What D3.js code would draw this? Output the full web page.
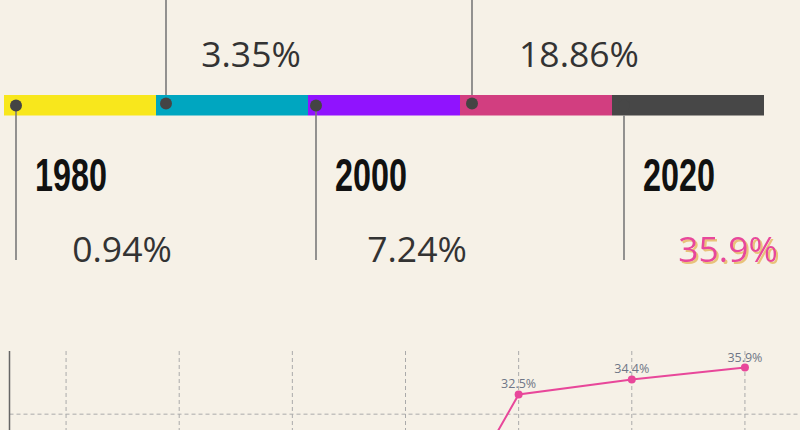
<!DOCTYPE html>
<html>
<head>
<meta charset="utf-8">
<script src="https://cdn.jsdelivr.net/npm/d3@7/dist/d3.min.js"></script>
<style>
  html, body { margin: 0; padding: 0; background: #f6f1e7; overflow: hidden; }
  svg { display: block; }
</style>
</head>
<body>
<svg id="chart" width="800" height="430"></svg>
<script>
// ---- data ----
const segYears = ["1980", "1990", "2000", "2010", "2020"];
const segValues = [0.94, 3.35, 7.24, 18.86, 35.9];
const segColors = ["#f8e71c", "#00a6c0", "#9013fe", "#d23e80", "#474747"];

const lineCategories = ["1980", "1990", "1995", "2000", "2018", "2019", "2020"];
const lineValues = [0.94, 3.35, 5.1, 7.24, 32.5, 34.4, 35.9];
const yTicks = [0, 10, 20, 30];

// ---- drawing ----
const svg = d3.select("#chart");
const W = 800, H = 430;

const defs = svg.append("defs");
const f = defs.append("filter").attr("id", "goldShadow")
  .attr("x", "-10%").attr("y", "-10%").attr("width", "130%").attr("height", "130%");
f.append("feOffset").attr("in", "SourceAlpha").attr("dx", 2).attr("dy", 1.5).attr("result", "off");
f.append("feFlood").attr("flood-color", "#e9c27a").attr("result", "col");
f.append("feComposite").attr("in", "col").attr("in2", "off").attr("operator", "in").attr("result", "shadow");
const fm = f.append("feMerge");
fm.append("feMergeNode").attr("in", "shadow");
fm.append("feMergeNode").attr("in", "SourceGraphic");

svg.append("rect").attr("width", W).attr("height", H).attr("fill", "#f6f1e7");

// timeline bar
const xb = d3.scaleBand().domain(segYears).range([4, 764]).paddingInner(0).paddingOuter(0);
const barTop = 95, barH = 20.5;
const fmt = v => v + "%";

const segs = segYears.map((y, i) => ({ year: y, value: segValues[i], color: segColors[i], i }));
const lineOffset = [12, 10, 8, 12, 12];
const labelShift = [5, -18, -4, 6, 3];
const isDown = d => d.i % 2 === 0;
const lx = d => xb(d.year) + lineOffset[d.i];
const last = segs.length - 1;

const g = svg.append("g");

// connector lines above the bar
g.selectAll("line.conn").data(segs.filter(d => !isDown(d))).join("line")
  .attr("class", "conn")
  .attr("x1", lx).attr("x2", lx)
  .attr("y1", -10).attr("y2", barTop + barH / 2)
  .attr("stroke", "#7a7a7a").attr("stroke-width", 1.6);

g.selectAll("rect.seg").data(segs).join("rect")
  .attr("class", "seg")
  .attr("x", d => xb(d.year)).attr("y", barTop)
  .attr("width", xb.bandwidth()).attr("height", barH)
  .attr("fill", d => d.color);

// connector lines below the bar
g.selectAll("line.conn2").data(segs.filter(isDown)).join("line")
  .attr("class", "conn2")
  .attr("x1", lx).attr("x2", lx)
  .attr("y1", d => d.i === last ? barTop + barH : barTop + barH / 2).attr("y2", 260)
  .attr("stroke", "#7a7a7a").attr("stroke-width", 1.6);

g.selectAll("circle.dot").data(segs).join("circle")
  .attr("class", "dot")
  .attr("cx", lx)
  .attr("cy", d => isDown(d) ? 105.5 : 103.5)
  .attr("r", 6)
  .attr("fill", d => d.i === last ? d.color : "#444");

// year labels (visible ones below the bar)
g.selectAll("text.year").data(segs.filter(isDown)).join("text")
  .attr("class", "year")
  .attr("x", d => lx(d) + 19)
  .attr("y", 191)
  .attr("font-family", "'Liberation Sans Narrow', 'Arial Narrow', sans-serif")
  .attr("font-weight", "bold")
  .attr("font-size", 46)
  .attr("textLength", 72)
  .attr("lengthAdjust", "spacingAndGlyphs")
  .attr("fill", "#111")
  .text(d => d.year);

// percentage labels
const pctX = d => xb(d.year) + 113 + labelShift[d.i];
const pctY = d => isDown(d) ? 262 : 67;

g.selectAll("text.pct").data(segs).join("text")
  .attr("class", "pct")
  .attr("x", pctX).attr("y", pctY)
  .attr("text-anchor", "middle")
  .attr("font-family", "'Open Sans', 'Noto Sans', sans-serif")
  .attr("font-size", 35.5)
  .attr("fill", d => d.i === last ? "#e8469b" : "#333")
  .attr("filter", d => d.i === last ? "url(#goldShadow)" : null)
  .text(d => fmt(d.value));

// ---- line chart ----
const chartTop = 351, chartLeft = 9.5;
const x = d3.scalePoint().domain(lineCategories).range([chartLeft, 801.5]).padding(0.5);
const y = d3.scaleLinear().domain([0, 38]).range([651, chartTop]);

const lc = svg.append("g");

lc.selectAll("line.vgrid").data(lineCategories).join("line")
  .attr("class", "vgrid")
  .attr("x1", d => x(d)).attr("x2", d => x(d))
  .attr("y1", chartTop).attr("y2", 651)
  .attr("stroke", "#aaa").attr("stroke-width", 1)
  .attr("stroke-dasharray", "4,3");

lc.selectAll("line.hgrid").data(yTicks.filter(t => t > 0)).join("line")
  .attr("class", "hgrid")
  .attr("x1", chartLeft).attr("x2", W)
  .attr("y1", d => y(d)).attr("y2", d => y(d))
  .attr("stroke", "#aaa").attr("stroke-width", 1)
  .attr("stroke-dasharray", "4,3");

lc.append("line")
  .attr("x1", chartLeft).attr("x2", chartLeft)
  .attr("y1", chartTop).attr("y2", 651)
  .attr("stroke", "#666").attr("stroke-width", 1.5);

const pts = lineCategories.map((c, i) => ({ c, v: lineValues[i] }));

lc.append("path")
  .datum(pts)
  .attr("fill", "none")
  .attr("stroke", "#e8479a")
  .attr("stroke-width", 2)
  .attr("d", d3.line().x(d => x(d.c)).y(d => y(d.v)));

lc.selectAll("circle.pt").data(pts).join("circle")
  .attr("class", "pt")
  .attr("cx", d => x(d.c)).attr("cy", d => y(d.v))
  .attr("r", 4)
  .attr("fill", "#e8479a");

// only labels that fall inside the picture
lc.selectAll("text.ptlabel").data(pts.filter(d => y(d.v) - 6 < H - 2)).join("text")
  .attr("class", "ptlabel")
  .attr("x", d => x(d.c)).attr("y", d => y(d.v) - 6)
  .attr("text-anchor", "middle")
  .attr("font-family", "'Open Sans', 'Noto Sans', sans-serif")
  .attr("font-size", 12.5)
  .attr("fill", "#6f7686")
  .text(d => d.v + "%");
</script>
</body>
</html>
